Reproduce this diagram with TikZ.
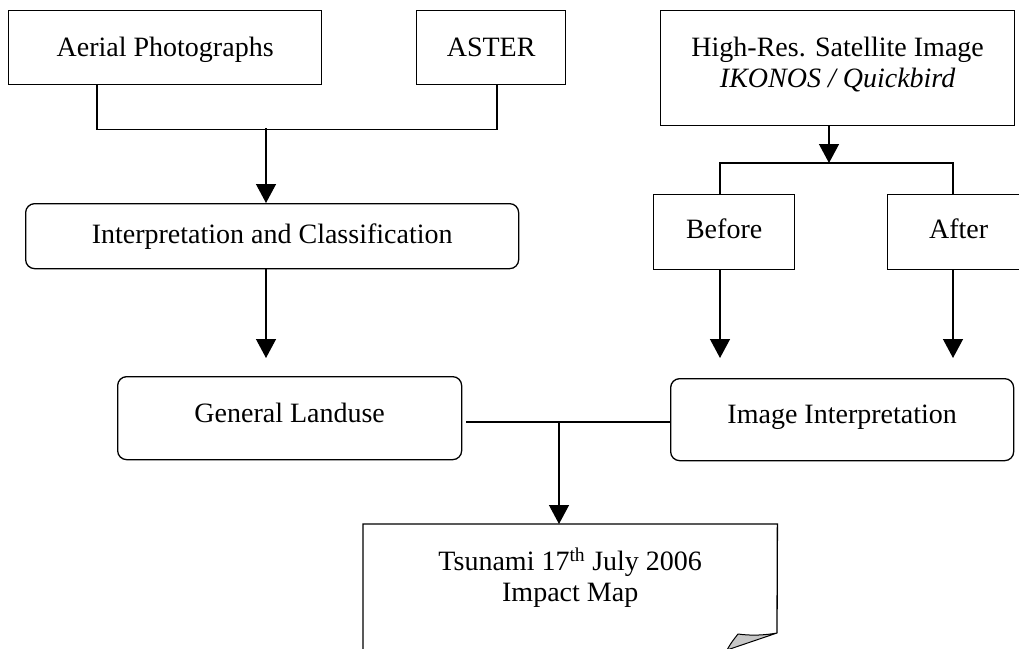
\documentclass[tikz,border=0pt]{standalone}
\usepackage{fontspec}
\setmainfont{Liberation Serif}
\usetikzlibrary{arrows.meta}
\begin{document}
\begin{tikzpicture}[x=1pt,y=-1pt,
  every node/.style={inner sep=0pt, anchor=north west, font=\fontsize{28}{31}\selectfont},
  box/.style={draw, line width=1.3pt, rectangle},
  rbox/.style={box, rounded corners=9pt},
  line/.style={line width=1.3pt},
  arr/.style={line, -{Triangle[width=20pt,length=19pt]}},
]
\useasboundingbox (0,0) rectangle (1019,648);
\clip (0,0) rectangle (1019,648);

% source data
\node[box, minimum width=313pt, text height=46pt, text depth=28pt] (aerial) at (8,10) {Aerial Photographs};
\node[box, minimum width=149pt, text height=46pt, text depth=28pt] (aster) at (416,10) {ASTER};
\node[box, minimum width=354pt, text height=46pt, text depth=69pt] (highres) at (660,10)
  {\begin{tabular}[t]{@{}c@{}}High-Res. Satellite Image\\ \textit{IKONOS / Quickbird}\end{tabular}};

% processing steps
\node[rbox, minimum width=493pt, text height=40pt, text depth=25pt] (interp) at (25,203) {Interpretation and Classification};
\node[box, minimum width=141pt, text height=44pt, text depth=31pt] (before) at (653,194) {Before};
\node[box, minimum width=142pt, text height=44pt, text depth=31pt] (after) at (887,194) {After};
\node[rbox, minimum width=344pt, text height=46pt, text depth=37pt] (landuse) at (117,376) {General Landuse};
\node[rbox, minimum width=343pt, text height=45pt, text depth=37pt] (imginterp) at (670,378) {Image Interpretation};

% result
\node[minimum width=414pt, text height=46pt, text depth=90pt] (impact) at (363,524)
  {\begin{tabular}[t]{@{}c@{}}Tsunami 17\textsuperscript{th} July 2006\\ Impact Map\end{tabular}};

% junction points
\coordinate (jtop) at (266,128);
\coordinate (hx) at (829,163);
\coordinate (bx) at (720,163);
\coordinate (ax) at (953,163);
\coordinate (mj) at (559,422);
\coordinate (fold) at (777,633);
\coordinate (tipL) at (738,634);
\coordinate (tipB) at (727,650);

% left branch
\draw[line] ([xshift=89pt]aerial.south west) -- ++(0,44) -| ([xshift=81pt]aster.south west);
\draw[arr] (jtop) -- (interp.north -| jtop);
\draw[arr, shorten >=18pt] (interp.south -| jtop) -- (landuse.north -| jtop);

% right branch
\draw[arr] (highres.south -| hx) -- (hx);
\draw[line] (before.north -| bx) -- (bx) -- (ax) -- (after.north -| ax);
\draw[arr, shorten >=20pt] (before.south -| bx) -- (imginterp.north -| bx);
\draw[arr, shorten >=20pt] (after.south -| ax) -- (imginterp.north -| ax);

% merge into the map
\draw[line, shorten <=4pt] (landuse.east |- mj) -- (imginterp.west |- mj);
\draw[arr] (mj) -- (impact.north -| mj);

% map sheet with curled corner
\draw[line] (impact.south west) -- (impact.north west) -- (impact.north east) -- (fold);
\filldraw[line width=1pt, fill=black!22, line join=round]
  (tipL) .. controls (752,636) and (766,635) .. (fold) -- (tipB) .. controls (731,643) .. (tipL) -- cycle;
\end{tikzpicture}
\end{document}
